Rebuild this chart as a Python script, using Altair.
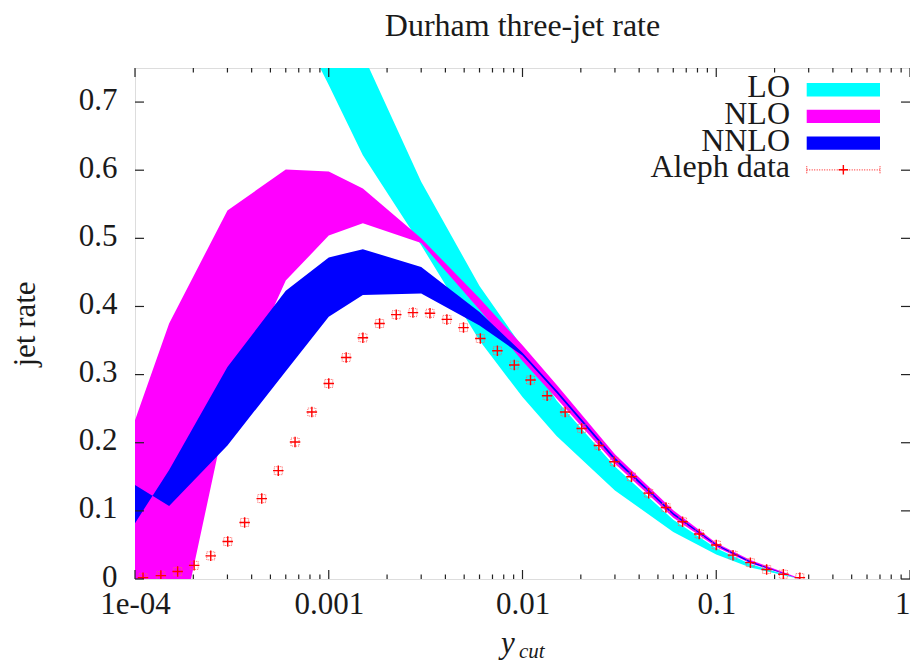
import altair as alt
import pandas as pd

# ---------------- data ----------------
ycut_grid = [1e-4, 1.5e-4, 3e-4, 6e-4, 1e-3, 1.5e-3, 3e-3, 6e-3, 0.01, 0.015, 0.03, 0.06, 0.1, 0.15, 0.27]
lo_low = [1.60, 1.40, 1.10, 0.85, 0.725, 0.622, 0.490, 0.350, 0.267, 0.210, 0.130, 0.069, 0.036, 0.017, 0.0]
lo_high = [2.00, 1.75, 1.40, 1.10, 0.930, 0.770, 0.583, 0.430, 0.340, 0.262, 0.165, 0.087, 0.045, 0.022, 0.0]
nlo_low = [-0.20, -0.15, 0.249, 0.438, 0.504, 0.522, 0.493, 0.395, 0.320, 0.265, 0.169, 0.090, 0.047, 0.023, 0.0]
nlo_high = [0.233, 0.375, 0.541, 0.601, 0.598, 0.573, 0.500, 0.412, 0.343, 0.285, 0.183, 0.101, 0.053, 0.028, 0.001]
nnlo_a = [0.082, 0.160, 0.311, 0.423, 0.472, 0.484, 0.458, 0.392, 0.332, 0.277, 0.178, 0.097, 0.051, 0.026, 0.0]
nnlo_b = [0.138, 0.107, 0.196, 0.305, 0.385, 0.417, 0.419, 0.372, 0.328, 0.273, 0.174, 0.094, 0.049, 0.024, 0.0]

aleph_ycut = [1.10e-4, 1.36e-4, 1.66e-4, 2.02e-4, 2.46e-4, 3.01e-4, 3.68e-4, 4.51e-4, 5.49e-4, 6.70e-4,
              8.18e-4, 1.00e-3, 1.23e-3, 1.50e-3, 1.83e-3, 2.23e-3, 2.72e-3, 3.33e-3, 4.07e-3, 4.96e-3,
              6.06e-3, 7.42e-3, 9.07e-3, 1.10e-2, 1.34e-2, 1.66e-2, 2.02e-2, 2.48e-2, 2.98e-2, 3.65e-2,
              4.48e-2, 5.50e-2, 6.70e-2, 8.17e-2, 0.100, 0.122, 0.150, 0.182, 0.222, 0.270]
aleph_rate = [0.002, 0.005, 0.011, 0.020, 0.034, 0.055, 0.083, 0.118, 0.159, 0.201,
              0.245, 0.287, 0.325, 0.354, 0.375, 0.388, 0.391, 0.390, 0.381, 0.369,
              0.353, 0.335, 0.314, 0.292, 0.269, 0.245, 0.221, 0.196, 0.172, 0.150,
              0.126, 0.105, 0.084, 0.066, 0.050, 0.035, 0.024, 0.014, 0.007, 0.002]

x_major = [1e-4, 1e-3, 1e-2, 1e-1, 1.0]
x_minor = [k * 10.0 ** e for e in range(-4, 0) for k in range(2, 10)]
y_major = [0.0, 0.1, 0.2, 0.3, 0.4, 0.5, 0.6, 0.7]

legend_labels = ["LO", "NLO", "NNLO", "Aleph data"]
legend_colors = ["#00ffff", "#ff00ff", "#0000ff", "#ff0000"]
title_text = "Durham three-jet rate"

# ---------------- styling ----------------
W, H = 775, 511
FONT = "Liberation Serif, Times New Roman, DejaVu Serif, serif"
TXT = "#1a1a1a"
FS = 31
FS_BIG = 32

bands = pd.DataFrame({"ycut": ycut_grid, "lo_low": lo_low, "lo_high": lo_high,
                      "nlo_low": nlo_low, "nlo_high": nlo_high,
                      "nnlo_a": nnlo_a, "nnlo_b": nnlo_b})
aleph = pd.DataFrame({"ycut": aleph_ycut, "rate": aleph_rate})
one = pd.DataFrame({"d": [0]})

xscale = alt.Scale(type="log", domain=[1e-4, 1.0], nice=False)
yscale = alt.Scale(domain=[0, 0.75], nice=False, zero=False)

xaxis = alt.Axis(values=x_major, ticks=False, domain=False, grid=False,
                 labelExpr="datum.value < 0.0005 ? '1e-04' : format(datum.value, '~g')",
                 labelAlign=alt.condition("datum.value > 0.5", alt.value("right"), alt.value("center")),
                 labelFont=FONT, labelFontSize=FS, labelColor=TXT, labelPadding=10,
                 labelFlush=False, labelOverlap=False)
yaxis = alt.Axis(values=y_major, ticks=False, domain=False, grid=False, format=".1~f",
                 labelFont=FONT, labelFontSize=FS, labelColor=TXT, labelPadding=18,
                 labelOverlap=False, labelFlush=False, labelOffset=-2)


def X(field):
    return alt.X(field, type="quantitative", scale=xscale, axis=xaxis, title=None)


def Y(field):
    return alt.Y(field, type="quantitative", scale=yscale, axis=yaxis, title=None)


lo = alt.Chart(bands).mark_area(color="#00ffff", clip=True, opacity=1).encode(
    x=X("ycut"), y=Y("lo_low"), y2="lo_high")
nlo = alt.Chart(bands).mark_area(color="#ff00ff", clip=True, opacity=1).encode(
    x=X("ycut"), y=Y("nlo_low"), y2="nlo_high")
nnlo = alt.Chart(bands).mark_area(color="#0000ff", clip=True, opacity=1).encode(
    x=X("ycut"), y=Y("nnlo_a"), y2="nnlo_b")

box_path = "M-1,-1L1,-1L1,1L-1,1Z"
cross_path = "M-1,0L1,0M0,-1L0,1"

err = alt.Chart(aleph).mark_point(shape=box_path, filled=False, size=64, color="#ff6060",
                                  strokeWidth=1, strokeDash=[1, 1], opacity=1, clip=True).encode(
    x=X("ycut"), y=Y("rate"))
pts = alt.Chart(aleph).mark_point(shape=cross_path, filled=False, size=110, color="#ff0000",
                                  strokeWidth=1.4, opacity=1, clip=True).encode(
    x=X("ycut"), y=Y("rate"))

# inward ticks on all four sides
TICK = "#222222"
xmaj = pd.DataFrame({"v": x_major})
xmin = pd.DataFrame({"v": x_minor})
ymaj = pd.DataFrame({"v": y_major})
ticks = []
for df, ln in ((xmaj, 9), (xmin, 4.5)):
    ticks.append(alt.Chart(df).mark_rule(color=TICK, strokeWidth=1.2).encode(
        x=X("v"), y=alt.value(H), y2=alt.value(H - ln)))
    ticks.append(alt.Chart(df).mark_rule(color=TICK, strokeWidth=1.2).encode(
        x=X("v"), y=alt.value(0), y2=alt.value(ln)))
ticks.append(alt.Chart(ymaj).mark_rule(color=TICK, strokeWidth=1.2).encode(
    y=Y("v"), x=alt.value(0), x2=alt.value(9)))
ticks.append(alt.Chart(ymaj).mark_rule(color=TICK, strokeWidth=1.2).encode(
    y=Y("v"), x=alt.value(W), x2=alt.value(W - 9)))

# legend (top right, labels left of samples)
legend = []
row0, dy = 21.7, 26.7
sx0, sx1 = 671.7, 745.0
for i, (lab, col) in enumerate(zip(legend_labels, legend_colors)):
    cy = row0 + i * dy
    legend.append(alt.Chart(one).mark_text(font=FONT, fontSize=FS_BIG, color=TXT, align="right",
                                           baseline="alphabetic").encode(
        x=alt.value(655), y=alt.value(cy + 7.5), text=alt.value(lab)))
    if i < 3:
        legend.append(alt.Chart(one).mark_rect(color=col, opacity=1).encode(
            x=alt.value(sx0), x2=alt.value(sx1), y=alt.value(cy - 6.7), y2=alt.value(cy + 6.7)))
    else:
        legend.append(alt.Chart(one).mark_rule(color="#ff4040", strokeWidth=1.2, strokeDash=[1, 1.5]).encode(
            x=alt.value(sx0), x2=alt.value(sx1), y=alt.value(cy)))
        for ex in (sx0, sx1):
            legend.append(alt.Chart(one).mark_rule(color="#ff4040", strokeWidth=1.2, strokeDash=[1, 1]).encode(
                x=alt.value(ex), y=alt.value(cy - 3.5), y2=alt.value(cy + 3.5)))
        legend.append(alt.Chart(one).mark_point(shape=cross_path, filled=False, size=90, color=col,
                                                strokeWidth=1.4, opacity=1).encode(
            x=alt.value((sx0 + sx1) / 2), y=alt.value(cy)))

# title and axis titles
title = alt.Chart(one).mark_text(font=FONT, fontSize=FS_BIG, color=TXT, align="center",
                                 baseline="alphabetic").encode(
    x=alt.value(W / 2), y=alt.value(-32), text=alt.value(title_text))
ytitle = alt.Chart(one).mark_text(font=FONT, fontSize=FS, color=TXT, angle=270, align="center",
                                  baseline="alphabetic").encode(
    x=alt.value(-100), y=alt.value(256), text=alt.value("jet rate"))
xt_y = alt.Chart(one).mark_text(font=FONT, fontSize=FS, fontStyle="italic", color=TXT, align="left",
                                baseline="alphabetic").encode(
    x=alt.value(366), y=alt.value(585), text=alt.value("y"))
xt_cut = alt.Chart(one).mark_text(font=FONT, fontSize=21, fontStyle="italic", color=TXT, align="left",
                                  baseline="alphabetic").encode(
    x=alt.value(384), y=alt.value(589.5), text=alt.value("cut"))

chart = alt.layer(lo, nlo, nnlo, err, pts, *ticks, *legend, title, ytitle, xt_y, xt_cut).properties(
    width=W, height=H,
    autosize=alt.AutoSizeParams(type="none"),
    padding={"left": 127, "top": 60, "right": 0, "bottom": 82},
).configure_view(stroke="#222222", strokeWidth=1.6).configure(background="white")

chart.save("out.html", embed_options={"renderer": "svg", "actions": False})
